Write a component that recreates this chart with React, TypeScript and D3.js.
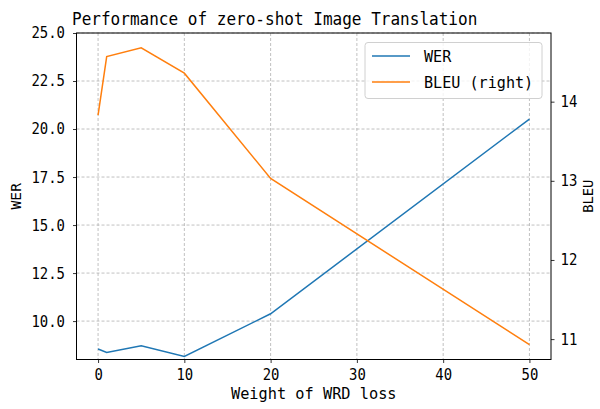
import React, { useRef, useEffect } from 'react';
import * as d3 from 'd3';

const weights = [0, 1, 5, 10, 20, 50];
const werValues = [8.55, 8.37, 8.72, 8.16, 10.38, 20.52];
const bleuValues = [13.83, 14.57, 14.68, 14.36, 13.03, 10.93];
const xTicks = [0, 10, 20, 30, 40, 50];
const werTicks = [10.0, 12.5, 15.0, 17.5, 20.0, 22.5, 25.0];
const bleuTicks = [11, 12, 13, 14];

const FONT = '"DejaVu Sans Mono", "Liberation Mono", monospace';

// squeeze the mono font so it looks like the narrow CJK font of the original
const fit = (sel: d3.Selection<any, any, any, any>, adv: number) =>
    sel.attr('textLength', function (this: SVGTextElement) {
        return (this.textContent || '').length * adv;
    }).attr('lengthAdjust', 'spacingAndGlyphs');

const PerformanceChart: React.FC = () => {
    const svgRef = useRef<SVGSVGElement | null>(null);

    useEffect(() => {
        if (!svgRef.current) return;
        const svg = d3.select(svgRef.current);
        svg.selectAll('*').remove();

        const margin = { top: 33, right: 49, bottom: 49.5, left: 76.5 };
        const width = 600;
        const height = 409;
        const innerWidth = width - margin.left - margin.right;
        const innerHeight = height - margin.top - margin.bottom;

        const xScale = d3.scaleLinear().domain([-2.5, 52.5]).range([0, innerWidth]);
        const yWer = d3.scaleLinear().domain([8.0, 25.0]).range([innerHeight, 0]);
        const bMin = d3.min(bleuValues) ?? 0;
        const bMax = d3.max(bleuValues) ?? 0;
        const pad = 0.05 * (bMax - bMin);
        const yBleu = d3.scaleLinear().domain([bMin - pad, bMax + pad]).range([innerHeight, 0]);

        const g = svg.append('g').attr('transform', `translate(${margin.left},${margin.top})`);

        // grid (left axis only)
        g.selectAll('.vgrid').data(xTicks).enter().append('line')
            .attr('x1', d => xScale(d)).attr('x2', d => xScale(d))
            .attr('y1', 0).attr('y2', innerHeight)
            .attr('stroke', '#b0b0b0').attr('stroke-width', 0.8).attr('stroke-dasharray', '3,2');
        g.selectAll('.hgrid').data(werTicks).enter().append('line')
            .attr('x1', 0).attr('x2', innerWidth)
            .attr('y1', d => yWer(d)).attr('y2', d => yWer(d))
            .attr('stroke', '#b0b0b0').attr('stroke-width', 0.8).attr('stroke-dasharray', '3,2');

        const werLine = d3.line<number>().x((_, i) => xScale(weights[i])).y(d => yWer(d));
        const bleuLine = d3.line<number>().x((_, i) => xScale(weights[i])).y(d => yBleu(d));

        g.append('path').datum(werValues).attr('d', werLine)
            .attr('fill', 'none').attr('stroke', '#1f77b4').attr('stroke-width', 1.5);
        g.append('path').datum(bleuValues).attr('d', bleuLine)
            .attr('fill', 'none').attr('stroke', '#ff7f0e').attr('stroke-width', 1.5);

        // axes
        const xAxis = g.append('g').attr('transform', `translate(0,${innerHeight})`)
            .call(d3.axisBottom(xScale).tickValues(xTicks).tickSize(3.5).tickPadding(5.5).tickFormat(d3.format('d')));
        const yAxisL = g.append('g')
            .call(d3.axisLeft(yWer).tickValues(werTicks).tickSize(3.5).tickPadding(8).tickFormat(d3.format('.1f')));
        const yAxisR = g.append('g').attr('transform', `translate(${innerWidth},0)`)
            .call(d3.axisRight(yBleu).tickValues(bleuTicks).tickSize(3.5).tickPadding(6).tickFormat(d3.format('d')));

        [xAxis, yAxisL, yAxisR].forEach(a => {
            a.select('.domain').remove();
            a.selectAll('.tick line').attr('stroke', '#000').attr('stroke-width', 0.8);
            const t = a.selectAll('.tick text').attr('fill', '#000')
                .style('font-family', FONT).style('font-size', '15.5px');
            fit(t, 8.4);
        });

        g.append('rect').attr('width', innerWidth).attr('height', innerHeight)
            .attr('fill', 'none').attr('stroke', '#000').attr('stroke-width', 1);

        // labels
        fit(svg.append('text').attr('x', 72).attr('y', 25)
            .style('font-family', FONT).style('font-size', '18px').attr('fill', '#000')
            .text('Performance of zero-shot Image Translation'), 9.65);
        fit(svg.append('text').attr('x', margin.left + innerWidth / 2).attr('y', 399)
            .attr('text-anchor', 'middle')
            .style('font-family', FONT).style('font-size', '15px').attr('fill', '#000')
            .text('Weight of WRD loss'), 9.2);
        fit(svg.append('text')
            .attr('transform', `translate(20.5,${margin.top + innerHeight / 2}) rotate(-90)`)
            .attr('text-anchor', 'middle')
            .style('font-family', FONT).style('font-size', '14px').attr('fill', '#000')
            .text('WER'), 8.8);
        fit(svg.append('text')
            .attr('transform', `translate(593,${margin.top + innerHeight / 2}) rotate(-90)`)
            .attr('text-anchor', 'middle')
            .style('font-family', FONT).style('font-size', '14px').attr('fill', '#000')
            .text('BLEU'), 8.3);

        // legend
        const legend = svg.append('g').attr('transform', 'translate(365,42.5)');
        legend.append('rect').attr('width', 177).attr('height', 56).attr('rx', 3)
            .attr('fill', '#fff').attr('fill-opacity', 0.8).attr('stroke', '#d0d0d0');
        const items = [
            { label: 'WER', color: '#1f77b4' },
            { label: 'BLEU (right)', color: '#ff7f0e' },
        ];
        items.forEach((it, i) => {
            const y = 13.5 + i * 26;
            legend.append('line').attr('x1', 7).attr('x2', 45).attr('y1', y).attr('y2', y)
                .attr('stroke', it.color).attr('stroke-width', 1.5);
            fit(legend.append('text').attr('x', 59).attr('y', y + 5.5)
                .style('font-family', FONT).style('font-size', '15px').attr('fill', '#000')
                .text(it.label), 9.1);
        });
    }, []);

    return <svg ref={svgRef} width={600} height={409} style={{ display: 'block' }} />;
};

export default function App() {
    return (
        <div style={{ position: 'absolute', left: 0, top: 0 }}>
            <PerformanceChart />
        </div>
    );
}
